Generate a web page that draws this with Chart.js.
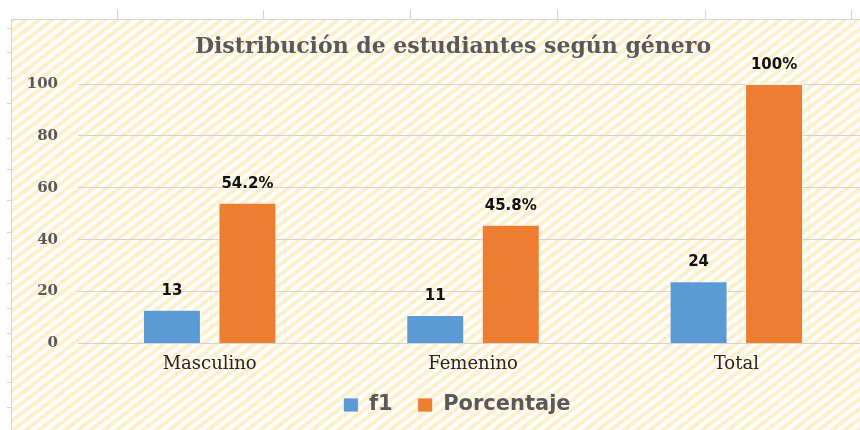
<!DOCTYPE html>
<html><head><meta charset="utf-8">
<script src="https://cdn.jsdelivr.net/npm/chart.js@4/dist/chart.umd.min.js"></script>
<style>
html,body{margin:0;padding:0;background:#fff;overflow:hidden}
#wrap{width:860px;height:430px;overflow:hidden;position:relative}
#c{position:absolute;left:0;top:0}
</style></head><body>
<div id="wrap"><canvas id="c" width="906" height="430" style="width:906px;height:430px"></canvas></div>
<script>
const categories = ['Masculino', 'Femenino', 'Total'];
const f1Values = [13, 11, 24];
const porcentajeValues = [54.2, 45.8, 100];
const seriesNames = ['f1', 'Porcentaje'];
const yTickValues = [0, 20, 40, 60, 80, 100];
const titleText = 'Distribución de estudiantes según género';

function makeStripePattern(ctx) {
  const W = 13, H = 10;
  const t = document.createElement('canvas');
  t.width = W; t.height = H;
  const g = t.getContext('2d');
  g.fillStyle = '#ffffff';
  g.fillRect(0, 0, W, H);
  g.strokeStyle = '#FFEFC9';
  g.lineWidth = 3.8;
  g.lineCap = 'square';
  for (const dx of [-W, 0, W]) {
    g.beginPath();
    g.moveTo(dx, H);
    g.lineTo(dx + W, 0);
    g.stroke();
  }
  return ctx.createPattern(t, 'repeat');
}

const backgroundPlugin = {
  id: 'sheetBackground',
  afterLayout(chart) {
    // centre title and legend on the full (cropped) chart object like the source
    const tb = chart.titleBlock;
    if (tb) { const d = 453 - (tb.left + tb.right) / 2; tb.left += d; tb.right += d; }
    const lg = chart.legend;
    if (lg) { const d = 457 - (lg.left + lg.right) / 2; lg.left += d; lg.right += d; lg.top -= 4; lg.bottom -= 4; }
  },
  beforeDraw(chart) {
    const ctx = chart.ctx;
    ctx.save();
    ctx.fillStyle = '#ffffff';
    ctx.fillRect(0, 0, chart.width, chart.height);
    ctx.fillStyle = makeStripePattern(ctx);
    ctx.fillRect(11, 19, chart.width - 11, chart.height - 19);
    ctx.strokeStyle = '#D4D4D4';
    ctx.lineWidth = 1;
    ctx.beginPath();
    ctx.moveTo(11.5, 19); ctx.lineTo(11.5, chart.height);
    ctx.moveTo(11, 19.5); ctx.lineTo(chart.width, 19.5);
    for (const x of [117, 263, 410, 557, 705, 851]) {
      ctx.moveTo(x + 0.5, 10); ctx.lineTo(x + 0.5, 19);
    }
    for (const y of [28, 52, 78, 103, 138, 169, 200, 232, 258, 283, 308, 333, 356, 382, 407]) {
      ctx.moveTo(7, y + 0.5); ctx.lineTo(11, y + 0.5);
    }
    ctx.stroke();
    ctx.restore();
  }
};

const valueLabelPlugin = {
  id: 'valueLabels',
  afterDatasetsDraw(chart) {
    const ctx = chart.ctx;
    ctx.save();
    ctx.font = 'bold 15px "DejaVu Sans"';
    ctx.fillStyle = '#111111';
    ctx.textAlign = 'center';
    ctx.textBaseline = 'middle';
    chart.data.datasets.forEach((ds, di) => {
      const meta = chart.getDatasetMeta(di);
      meta.data.forEach((el, i) => {
        const v = ds.data[i];
        const txt = di === 1 ? v + '%' : String(v);
        ctx.fillText(txt, el.x, el.y - 19);
      });
    });
    ctx.restore();
  }
};

new Chart(document.getElementById('c'), {
  type: 'bar',
  data: {
    labels: categories,
    datasets: [
      { label: seriesNames[0], data: f1Values, backgroundColor: '#5B9BD5', borderColor: 'rgba(255,255,255,0.7)', borderWidth: 1 },
      { label: seriesNames[1], data: porcentajeValues, backgroundColor: '#ED7D31', borderColor: 'rgba(255,255,255,0.7)', borderWidth: 1 }
    ]
  },
  options: {
    responsive: false,
    animation: false,
    events: [],
    datasets: { bar: { categoryPercentage: 0.5735, barPercentage: 0.768 } },
    layout: { padding: { left: 16, right: 38, top: 0, bottom: 0.5 } },
    plugins: {
      title: {
        display: true,
        text: titleText,
        color: '#595959',
        font: { family: '"DejaVu Serif"', weight: 'bold', size: 22 },
        padding: { top: 34, bottom: 23.6 }
      },
      legend: {
        position: 'bottom',
        labels: {
          boxWidth: 15, boxHeight: 14, padding: 25,
          color: '#595959',
          font: { family: '"DejaVu Sans"', weight: 'bold', size: 21 }
        }
      },
      tooltip: { enabled: false }
    },
    scales: {
      x: {
        grid: { display: false },
        border: { display: false },
        ticks: { color: '#262626', padding: 2, font: { family: '"DejaVu Serif"', size: 18 } },
        afterFit(s) { s.height = 30; }
      },
      y: {
        min: 0, max: 100,
        afterBuildTicks(s) { s.ticks = yTickValues.map(v => ({ value: v })); },
        grid: { color: '#D2D2D2', drawTicks: false, lineWidth: 1 },
        border: { display: false },
        ticks: { color: '#595959', padding: 20, font: { family: '"DejaVu Serif"', weight: 'bold', size: 15 } },
        afterFit(s) { s.width = 62; }
      }
    }
  },
  plugins: [backgroundPlugin, valueLabelPlugin]
});
</script>
</body></html>
